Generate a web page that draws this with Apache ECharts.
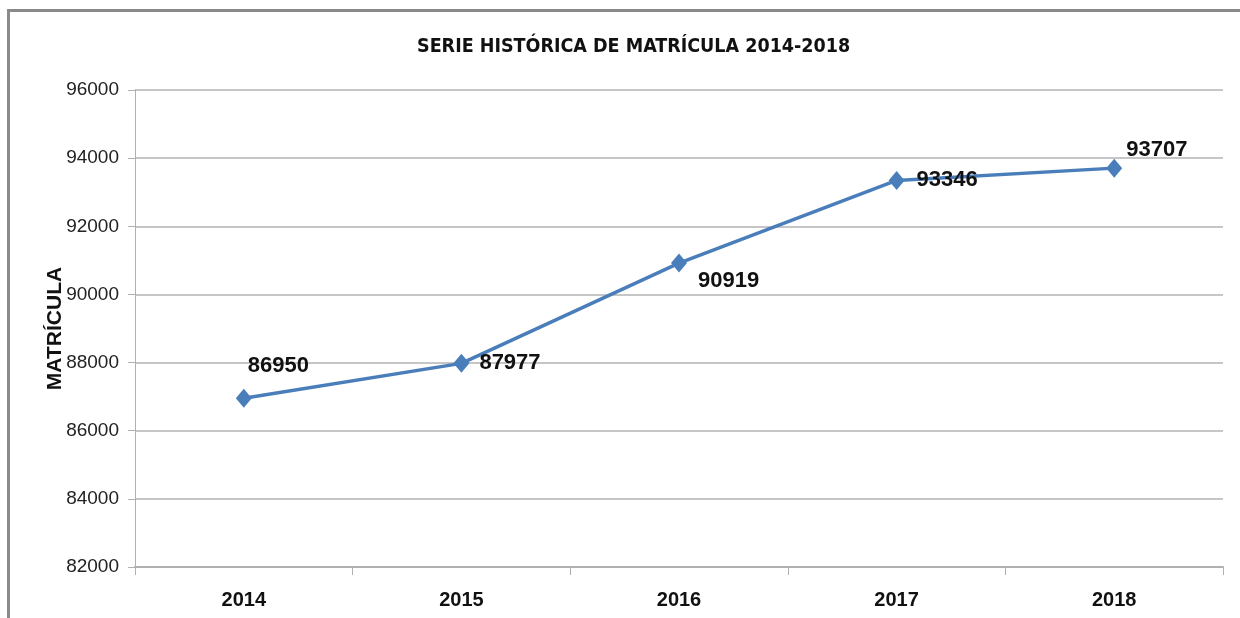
<!DOCTYPE html>
<html>
<head>
<meta charset="utf-8">
<script src="https://cdn.jsdelivr.net/npm/echarts@6/dist/echarts.min.js"></script>
<style>html,body{margin:0;padding:0;background:#fff;}#c{width:1240px;height:618px;}</style>
</head>
<body>
<div id="c"></div>
<script>
const categories = ['2014', '2015', '2016', '2017', '2018'];
const matricula = [86950, 87977, 90919, 93346, 93707];
const yTicks = { min: 82000, max: 96000, interval: 2000 };
const titleText = 'SERIE HISTÓRICA DE MATRÍCULA 2014-2018';
const yName = 'MATRÍCULA';

const labelOffsets = [[-9, -32], [5, 0], [6, 18], [7, 0], [-1, -18]];
const cond = '"DejaVu Sans Condensed", "Liberation Sans", Arial, sans-serif';
const lib = '"Liberation Sans", Arial, sans-serif';

const chart = echarts.init(document.getElementById('c'), null, { renderer: 'canvas' });
chart.setOption({
  backgroundColor: '#fff',
  animation: false,
  graphic: [{
    type: 'rect', silent: true, z: -1,
    shape: { x: 8.5, y: 10.5, width: 1400, height: 800 },
    style: { fill: 'none', stroke: '#8a8a8a', lineWidth: 3 }
  }],
  title: {
    text: titleText, left: 412, top: 32,
    textStyle: { fontFamily: cond, fontWeight: 'bold', fontSize: 19.5, color: '#111' }
  },
  grid: { left: 135, right: 17, top: 90, bottom: 51, containLabel: false },
  xAxis: {
    type: 'category', data: categories, boundaryGap: true,
    axisLine: { lineStyle: { color: '#b0b0b0', width: 2 } },
    axisTick: { show: true, length: 8, lineStyle: { color: '#b0b0b0', width: 1 } },
    axisLabel: { margin: 23, fontFamily: lib, fontWeight: 'bold', fontSize: 20, color: '#111' }
  },
  yAxis: {
    type: 'value', min: yTicks.min, max: yTicks.max, interval: yTicks.interval,
    name: yName, nameLocation: 'middle', nameRotate: 90, nameGap: 69, nameMoveOverlap: false,
    nameTextStyle: { fontFamily: lib, fontWeight: 'bold', fontSize: 21, color: '#111' },
    axisLine: { show: true, lineStyle: { color: '#b0b0b0', width: 1 } },
    axisTick: { show: true, length: 7, lineStyle: { color: '#b0b0b0', width: 1 } },
    axisLabel: { margin: 16, fontFamily: lib, fontSize: 19, color: '#222', formatter: v => String(v) },
    splitLine: { show: true, lineStyle: { color: '#b3b3b3', width: 1.5 } }
  },
  series: [{
    type: 'line',
    data: matricula.map((v, i) => ({
      value: v,
      label: { offset: labelOffsets[i] }
    })),
    symbol: 'diamond', symbolSize: [16, 19],
    lineStyle: { color: '#4a7ebb', width: 3.5 },
    itemStyle: { color: '#4a7ebb' },
    label: {
      show: true, position: 'right', distance: 5, align: 'left',
      fontFamily: lib, fontWeight: 'bold', fontSize: 22, color: '#111'
    }
  }]
});
</script>
</body>
</html>
